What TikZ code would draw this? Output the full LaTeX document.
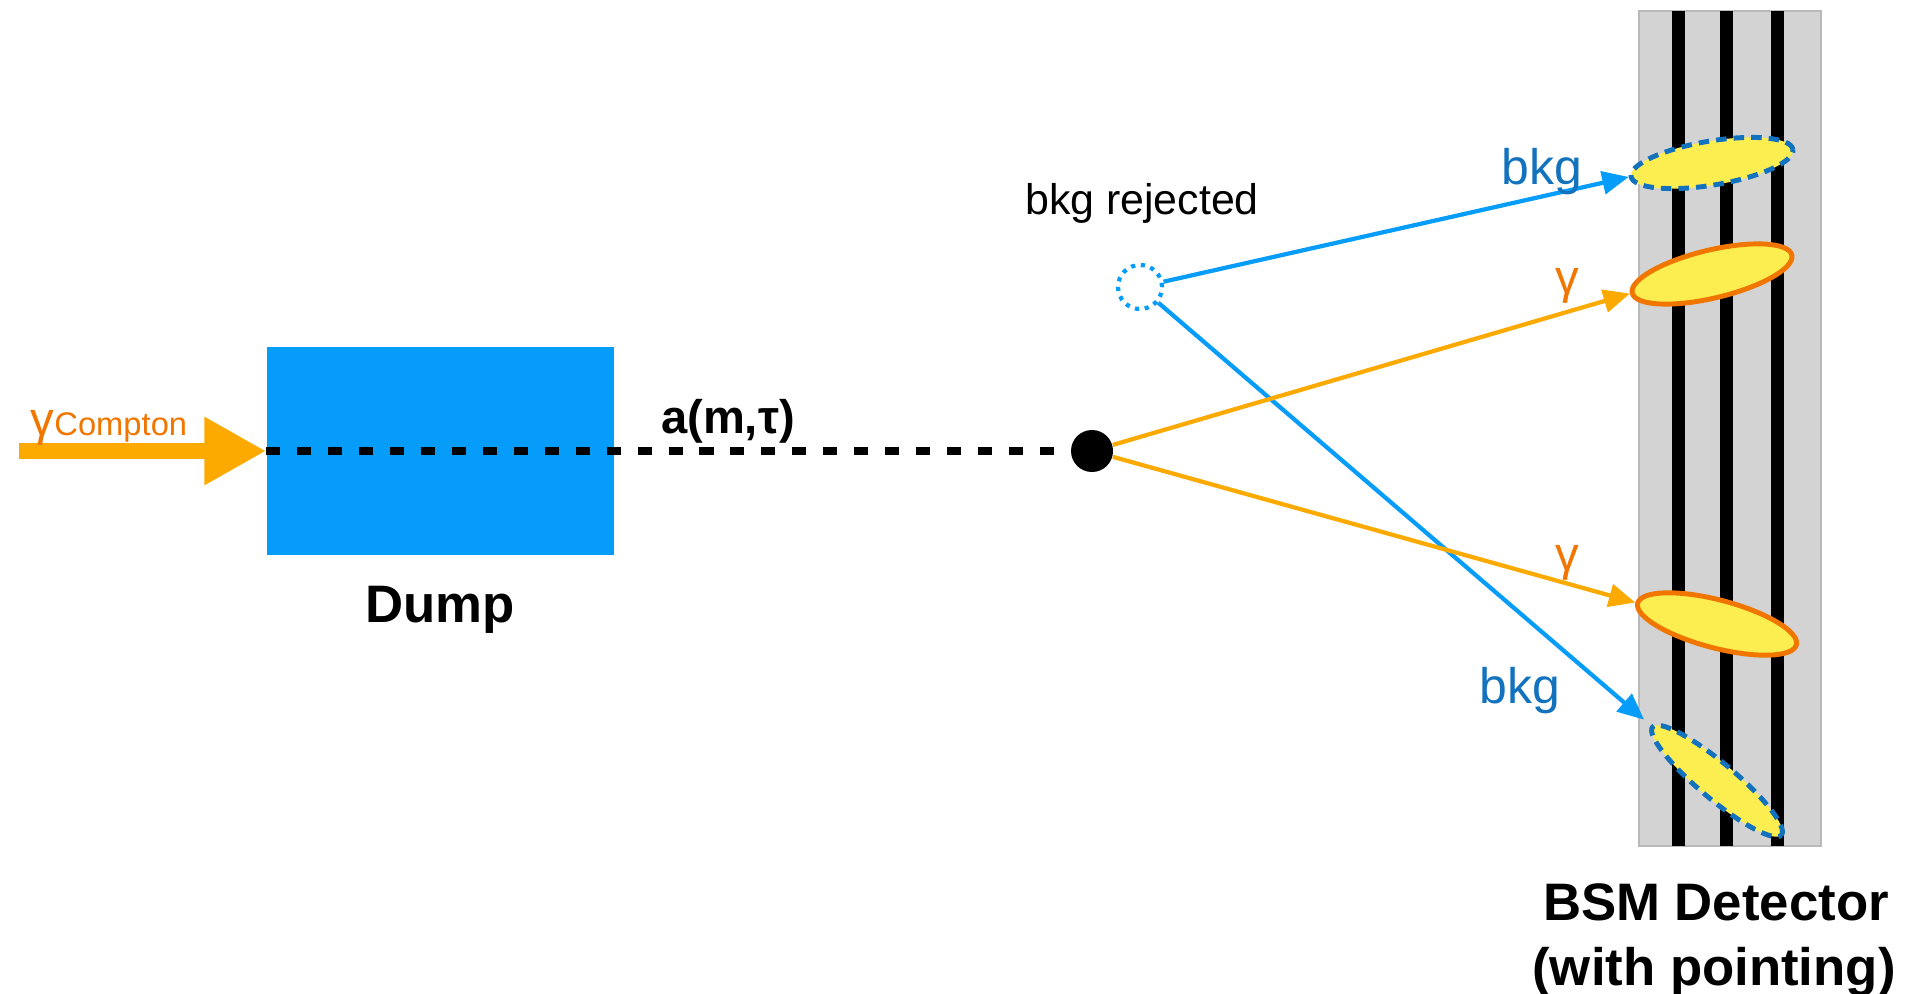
\documentclass[tikz,border=0pt]{standalone}
\usepackage{fontspec}
\setmainfont{Liberation Sans}
\usetikzlibrary{shapes.geometric,arrows.meta}
\definecolor{dumpblue}{RGB}{6,156,250}
\definecolor{beamorange}{RGB}{252,170,0}
\definecolor{gamorange}{RGB}{240,118,0}
\definecolor{bkgblue}{RGB}{18,114,190}
\definecolor{hityellow}{RGB}{252,237,80}
\definecolor{detgray}{RGB}{211,211,211}
\definecolor{detedge}{RGB}{185,185,185}

\begin{document}
\begin{tikzpicture}[x=0.01cm,y=-0.01cm]
\tikzset{hit/.style={ellipse, draw, fill=hityellow, inner sep=0pt, minimum width=1.64cm, minimum height=0.46cm, line width=1.4pt},
  bkghit/.style={hit, draw=bkgblue, dash pattern=on 3pt off 2pt},
  gamhit/.style={hit, draw=gamorange},
  trk/.style={line width=1.2pt, -{Triangle[length=7.5pt,width=6.5pt]}}}
\useasboundingbox (0,0) rectangle (1906,994);
% detector with its three planes
\fill[detgray, draw=detedge, line width=0.3pt] (1639,11) rectangle (1821,846);
\foreach \x in {1678,1726,1777}
  \fill (\x-6.5,11) rectangle (\x+6.5,846);
% beam dump
\node[fill=dumpblue, minimum width=3.47cm, minimum height=2.08cm, inner sep=0pt] (dump) at (440.5,451) {};
\node[font=\bfseries\fontsize{15pt}{18pt}\selectfont, anchor=base] (dumplbl) at (440,622) {Dump};
\coordinate (src) at (19,451);
\draw[beamorange, line width=4.5pt, -{Triangle[length=17.6pt,width=18.2pt]}] (src) -- (dump.west);
\node[text=gamorange, anchor=base west, inner sep=0pt] (gin) at (30,435) {\fontsize{13.5pt}{16pt}\selectfont γ\fontsize{9.3pt}{11pt}\selectfont Compton};
% decay vertex and rejected vertex
\node[circle, fill, minimum size=0.42cm, inner sep=0pt] (decay) at (1092,451) {};
\node[circle, draw=dumpblue, line width=1.2pt, dash pattern=on 1.2pt off 1.6pt, minimum size=0.44cm, inner sep=0pt] (rej) at (1140,287) {};
\draw[line width=2pt, dash pattern=on 4pt off 4.8pt] (dump.west) -- (decay);
\node[font=\bfseries\fontsize{13.4pt}{16pt}\selectfont, anchor=base] (alp) at (728,433) {a(m,τ)};
\node[font=\fontsize{12.2pt}{14pt}\selectfont, anchor=base] (rejlbl) at (1142,215) {bkg rejected};
% hits in the detector
\node[bkghit, rotate=9.5, minimum height=0.44cm] (hit1) at (1712,163) {};
\node[gamhit, rotate=13.4, minimum height=0.48cm] (hit2) at (1712,274) {};
\node[gamhit, rotate=-14.7, minimum height=0.48cm] (hit3) at (1717,624) {};
\node[bkghit, rotate=-40, minimum width=1.68cm, minimum height=0.36cm] (hit4) at (1717,781) {};
% tracks
\draw[trk, dumpblue] (rej) -- (hit1.west);
\draw[trk, dumpblue, shorten >=2.5pt] (rej) -- (hit4.west);
\draw[trk, beamorange] (decay) -- (hit2.west);
\draw[trk, beamorange] (decay) -- (hit3.west);
\node[text=bkgblue, font=\fontsize{14.2pt}{17pt}\selectfont, anchor=base] (bkg1) at (1542,185) {bkg};
\node[text=bkgblue, font=\fontsize{14.2pt}{17pt}\selectfont, anchor=base] (bkg2) at (1520,703) {bkg};
\node[text=gamorange, font=\fontsize{13.5pt}{16pt}\selectfont, anchor=base] (gam1) at (1567,293) {γ};
\node[text=gamorange, font=\fontsize{13.5pt}{16pt}\selectfont, anchor=base] (gam2) at (1567,570) {γ};
\node[font=\bfseries\fontsize{15pt}{18pt}\selectfont, anchor=base] (detlbl) at (1716,920) {BSM Detector};
\node[font=\bfseries\fontsize{15pt}{18pt}\selectfont, anchor=base] (detlbl2) at (1714,985) {(with pointing)};
\end{tikzpicture}
\end{document}
